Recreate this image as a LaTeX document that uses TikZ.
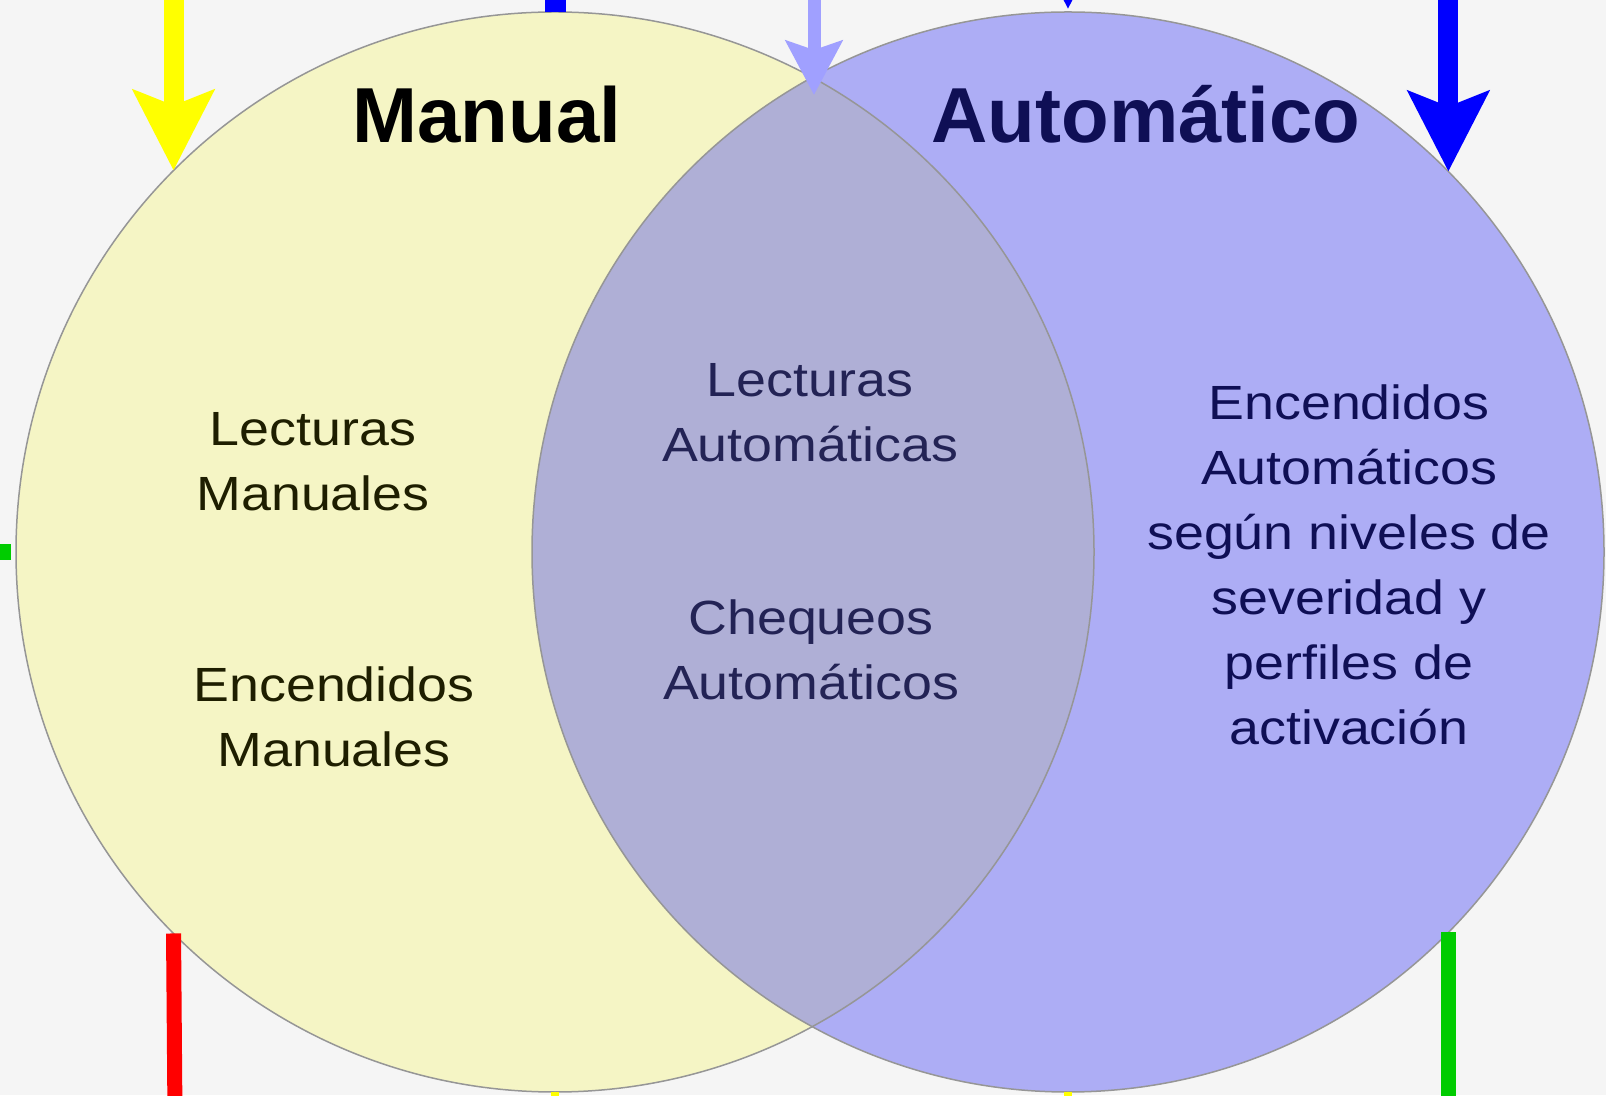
\documentclass[tikz,border=0pt]{standalone}
\usepackage{fontspec}
\setmainfont{Liberation Sans}
\newfontfamily\bodyfont[FakeStretch=1.12]{Liberation Sans}
\usetikzlibrary{arrows.meta,shapes.geometric}
\definecolor{bg}{RGB}{245,245,245}
\definecolor{yelfill}{RGB}{245,245,197}
\definecolor{blufill}{RGB}{173,173,245}
\definecolor{mixfill}{RGB}{175,175,214}
\definecolor{edge}{RGB}{150,150,150}
\definecolor{lbarrow}{RGB}{160,160,255}
\definecolor{ycol}{RGB}{255,255,0}
\definecolor{bcol}{RGB}{0,0,255}
\definecolor{rcol}{RGB}{255,0,0}
\definecolor{gcol}{RGB}{0,204,0}
\definecolor{txtL}{RGB}{30,30,0}
\definecolor{txtM}{RGB}{35,35,85}
\definecolor{txtR}{RGB}{15,15,85}
\begin{document}
\begin{tikzpicture}[x=1pt,y=1pt,
  circ/.style={ellipse, inner sep=0pt, outer sep=0pt},
  bigtip/.style={line width=20pt, {Stealth[length=80pt,width=80pt,inset=15pt]}-},
  smalltip/.style={line width=13pt, {Stealth[length=54pt,width=56pt,inset=9pt]}-},
  stub/.style={line width=15pt},
  body/.style={font=\bodyfont\fontsize{48}{65}\selectfont, align=center, inner sep=0pt, anchor=north},
  title/.style={font=\bfseries\fontsize{78}{90}\selectfont, inner sep=0pt, anchor=base}
]
\useasboundingbox (0,0) rectangle (1606,1095);
\clip (0,0) rectangle (1606,1095);
\fill[bg] (0,0) rectangle (1606,1095);

% circles
\node[circ, fill=yelfill, minimum width=1078pt, minimum height=1080pt] (L) at (555,543) {};
\node[circ, fill=blufill, minimum width=1072pt, minimum height=1080pt] (R) at (1068,543) {};
\begin{scope}
  \clip (555,543) ellipse [x radius=539, y radius=540];
  \fill[mixfill] (1068,543) ellipse [x radius=536, y radius=540];
\end{scope}
\draw[edge, line width=1.5pt] (555,543) ellipse [x radius=539, y radius=540];
\draw[edge, line width=1.5pt] (1068,543) ellipse [x radius=536, y radius=540];

% connectors
\coordinate (X) at (814,1000);
\draw[bigtip, ycol] (L.135) -- ++(0,300);
\draw[bigtip, bcol] (R.45) -- ++(0,300);
\draw[smalltip, lbarrow] (X) -- ++(0,200);
\draw[bcol, line width=21pt] (L.north) -- ++(0,40);
\draw[bigtip, bcol] ([yshift=3pt]R.north) -- ++(0,200);
\draw[rcol, stub] (L.225) -- ++(2,-250);
\draw[gcol, stub] (R.315) -- ++(0,-250);
\draw[gcol, line width=16pt] (L.west) ++(-5,0) -- ++(-40,0);
\draw[ycol, line width=8pt] (L.south) -- ++(0,-30);
\draw[ycol, line width=8pt] (R.south) -- ++(0,-30);

% titles
\node[title, text=black] (tM) at (487,952) {Manual};
\node[title, text=txtR] (tA) at (1146,952) {Automático};

% texts
\node[body, text=txtL] (lm) at (313,683) {Lecturas\\Manuales};
\node[body, text=txtL] (em) at (334,428) {Encendidos\\Manuales};
\node[body, text=txtM] (la) at (810,732) {Lecturas\\Automáticas};
\node[body, text=txtM] (ca) at (811,495) {Chequeos\\Automáticos};
\node[body, text=txtR] (ea) at (1349,710) {Encendidos\\Automáticos\\según niveles de\\severidad y\\perfiles de\\activación};
\end{tikzpicture}
\end{document}
